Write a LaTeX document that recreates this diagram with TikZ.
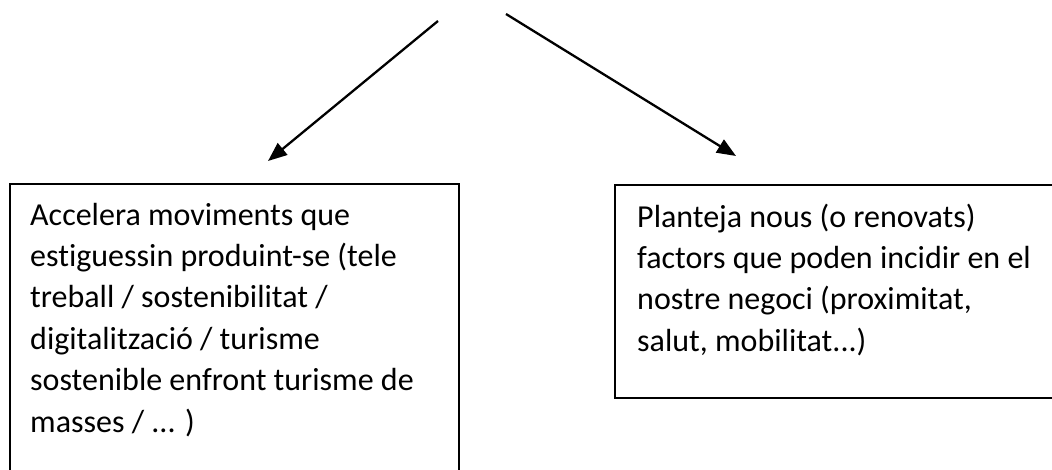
\documentclass[tikz,border=0pt]{standalone}
\usepackage{fontspec}
\setmainfont{Carlito}[Ligatures={NoCommon}]
\usetikzlibrary{arrows.meta}
\begin{document}
\begin{tikzpicture}[x=1pt,y=1pt,
  boxline/.style={draw=black,line width=2pt},
  boxtext/.style={anchor=north west,inner sep=0pt,align=left,
    font=\fontsize{32}{41.4}\selectfont},
  arrowline/.style={draw=black,line width=2.3pt,-{Triangle[length=19pt,width=15pt]}}]
\useasboundingbox (0,0) rectangle (1052,470);
\clip (0,0) rectangle (1052,470);
% boxes
\node[boxline,anchor=north west,inner sep=0pt,minimum width=449pt,minimum height=320pt] (leftbox) at (9,287) {};
\node[boxline,anchor=north west,inner sep=0pt,minimum width=460pt,minimum height=213pt] (rightbox) at (614,286) {};
% texts
\node[boxtext] (lefttext) at (30,275) {\rule{0pt}{30pt}Accelera moviments que\\estiguessin produint-se (tele\\treball / sostenibilitat /\\digitalització / turisme\\sostenible enfront turisme de\\masses / ... )};
\node[boxtext] (righttext) at (637,273) {\rule{0pt}{30pt}Planteja nous (o renovats)\\factors que poden incidir en el\\nostre negoci (proximitat,\\salut, mobilitat...)};
% arrows
\coordinate (lstart) at (438,449);
\coordinate (ltip) at (268,309);
\coordinate (rstart) at (506,456);
\coordinate (rtip) at (736,314);
\draw[arrowline] (lstart) -- (ltip);
\draw[arrowline] (rstart) -- (rtip);
\end{tikzpicture}
\end{document}
